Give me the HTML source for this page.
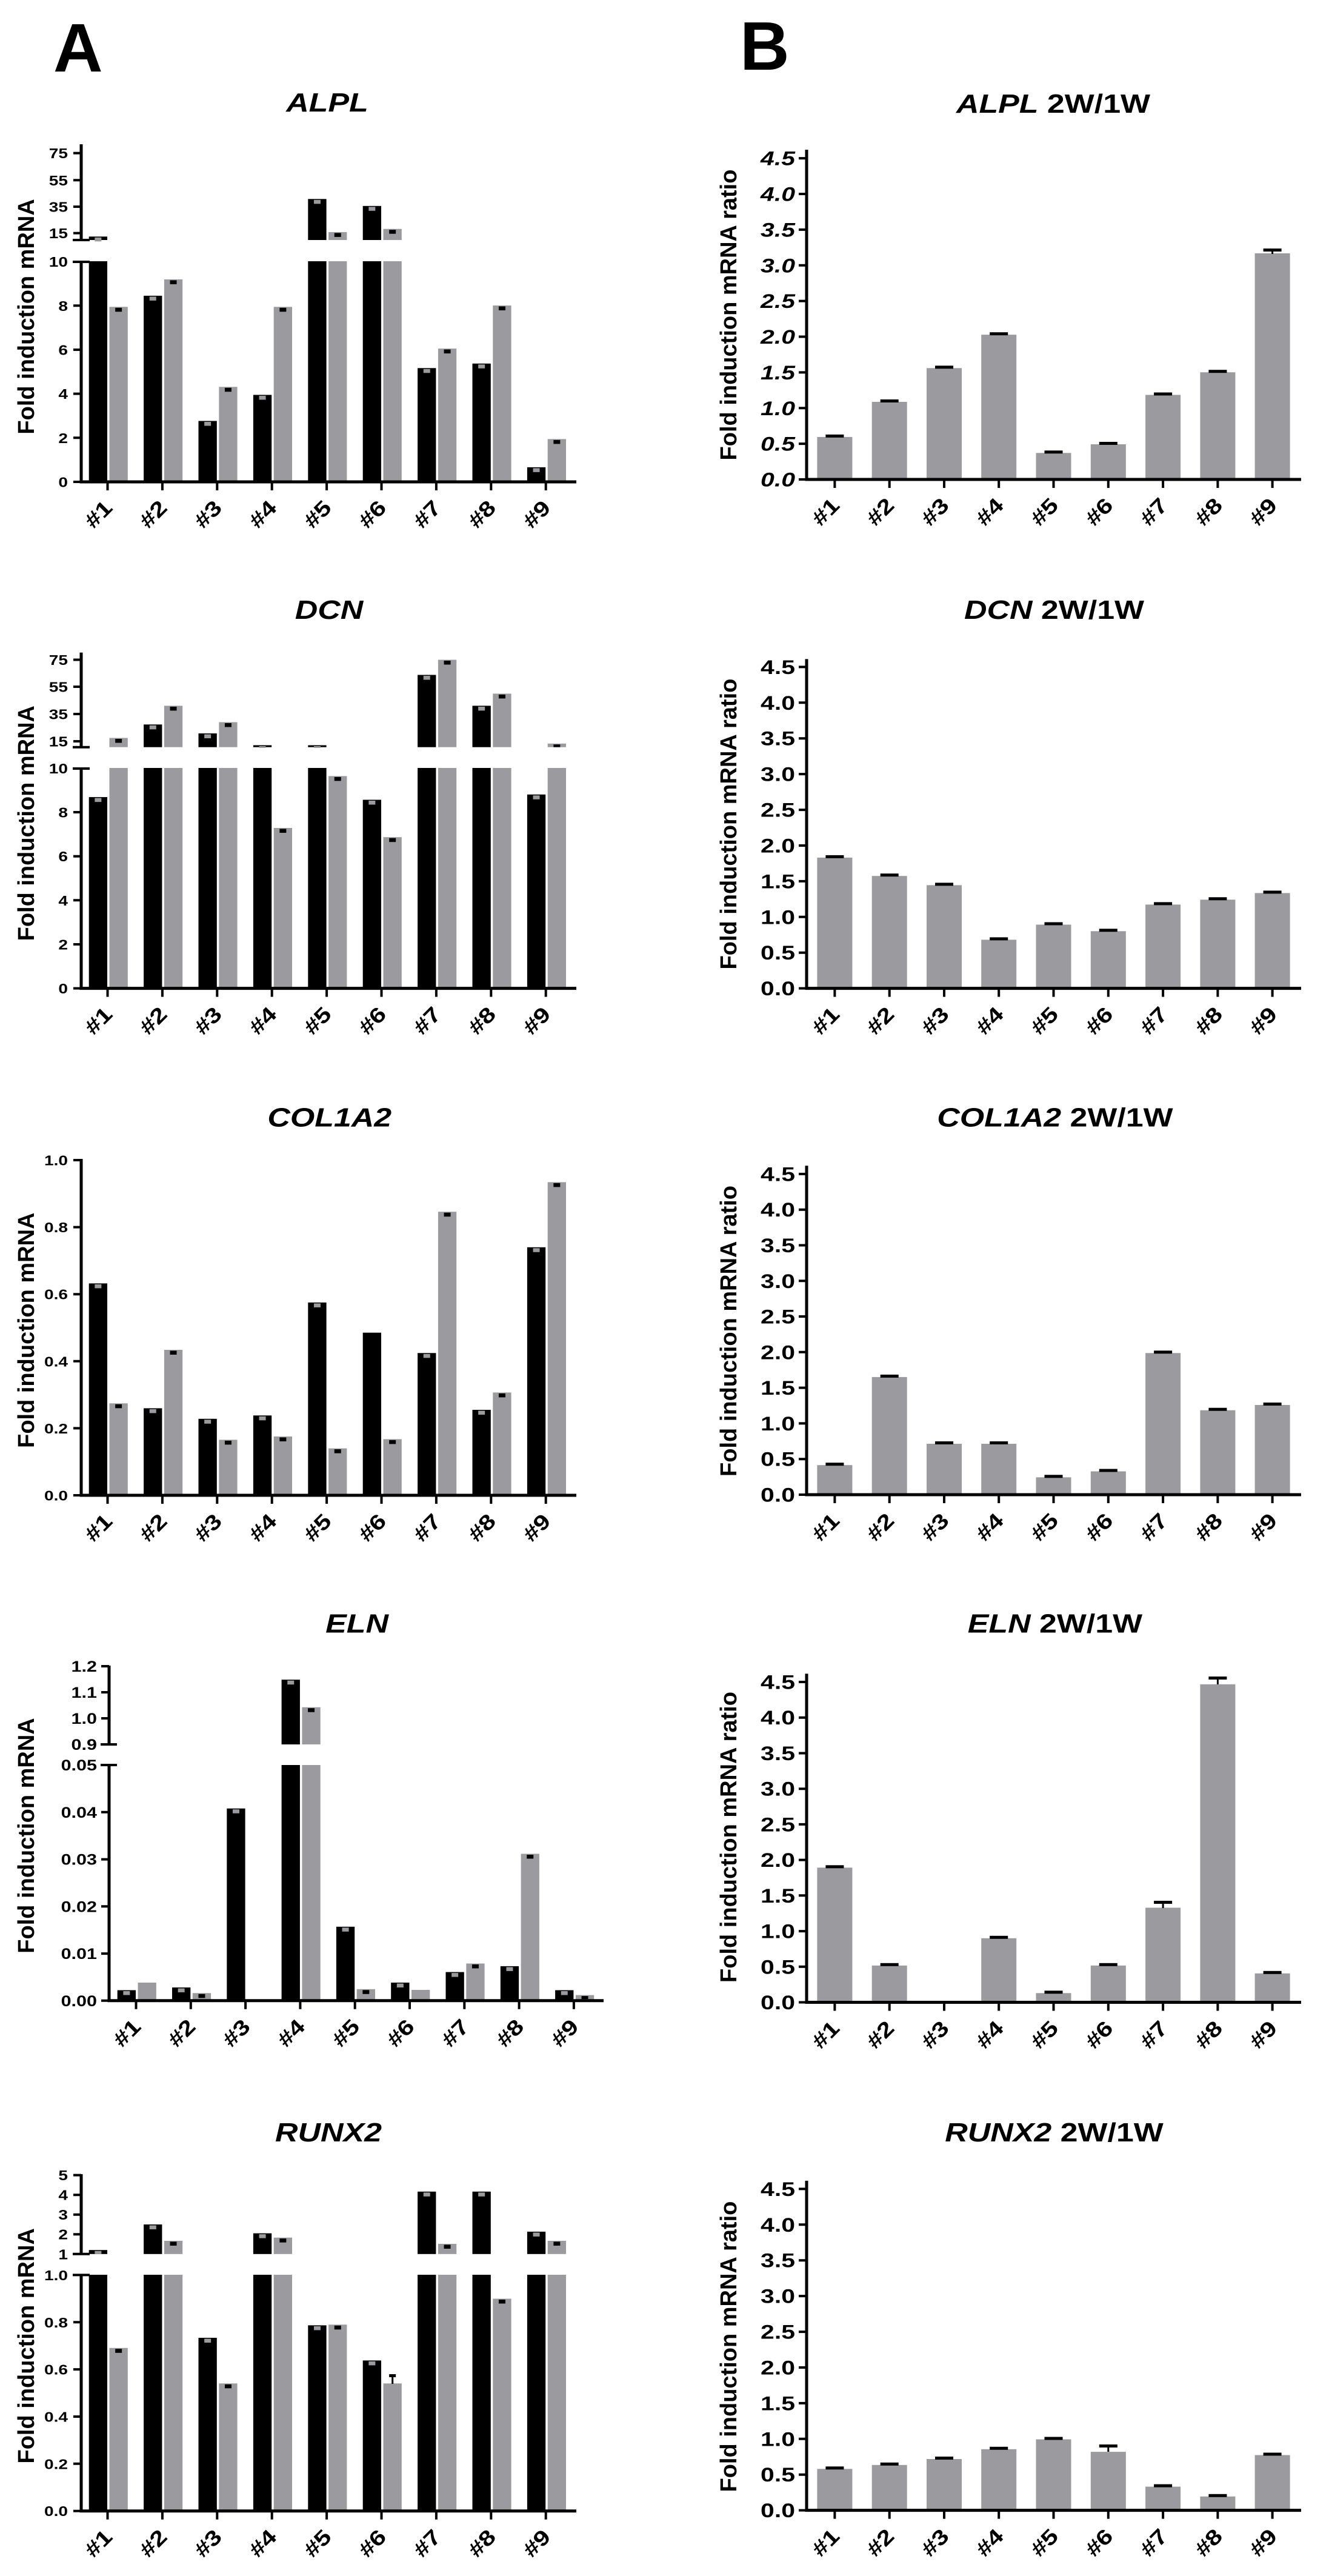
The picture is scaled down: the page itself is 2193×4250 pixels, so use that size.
<!DOCTYPE html>
<html><head><meta charset="utf-8"><style>
html,body{margin:0;padding:0;background:#fff}
svg{display:block}
text{font-family:"Liberation Sans",Arial,Helvetica,sans-serif;font-weight:700;fill:#000}
.xl{font-size:35px}
.ta{font-size:23px}
.te{font-size:25px}
.tb{font-size:32px}
.tt{font-size:44px}
.yt{font-size:38px}
.ax{stroke:#000;stroke-width:5;fill:none}
.tk{stroke:#000;stroke-width:4;fill:none}
.k{fill:#000}
.g{fill:#9b9b9f}
</style></head><body>
<svg width="2193" height="4250" viewBox="0 0 2193 4250" xmlns="http://www.w3.org/2000/svg">
<rect x="0" y="0" width="2193" height="4250" fill="#fff"/>
<text x="88" y="118" font-size="113">A</text>
<text x="1221" y="115" font-size="113">B</text>

<!-- ================= A1 ALPL ================= -->
<g transform="scale(1.18 1)"><text class="tt" x="457.6" y="184" text-anchor="middle" font-style="italic">ALPL</text></g>
<text class="yt" text-anchor="middle" transform="translate(56 522.4) rotate(-90)">Fold induction mRNA</text>
<g>
<rect class="k" x="146.7" y="390.3" width="30.3" height="5.7"/><rect class="k" x="146.7" y="431" width="30.3" height="364"/><rect class="g" x="180.5" y="506.3" width="30.3" height="288.7"/>
<rect class="k" x="237.1" y="487.9" width="30.3" height="307.1"/><rect class="g" x="270.9" y="460.9" width="30.3" height="334.1"/>
<rect class="k" x="327.5" y="694.5" width="30.3" height="100.5"/><rect class="g" x="361.3" y="638.3" width="30.3" height="156.7"/>
<rect class="k" x="417.9" y="651.5" width="30.3" height="143.5"/><rect class="g" x="451.7" y="506.3" width="30.3" height="288.7"/>
<rect class="k" x="508.3" y="328.3" width="30.3" height="67.7"/><rect class="k" x="508.3" y="431" width="30.3" height="364"/><rect class="g" x="542.1" y="382.9" width="30.3" height="13.1"/><rect class="g" x="542.1" y="431" width="30.3" height="364"/>
<rect class="k" x="598.7" y="339.8" width="30.3" height="56.2"/><rect class="k" x="598.7" y="431" width="30.3" height="364"/><rect class="g" x="632.5" y="377.7" width="30.3" height="18.3"/><rect class="g" x="632.5" y="431" width="30.3" height="364"/>
<rect class="k" x="689.1" y="607.3" width="30.3" height="187.7"/><rect class="g" x="722.9" y="575.1" width="30.3" height="219.9"/>
<rect class="k" x="779.5" y="599.8" width="30.3" height="195.2"/><rect class="g" x="813.3" y="504" width="30.3" height="291"/>
<rect class="k" x="869.9" y="770.9" width="30.3" height="24.1"/><rect class="g" x="903.7" y="724.4" width="30.3" height="70.6"/>
</g>
<g class="g">
<rect x="156.35" y="391.8" width="11" height="6.5"/><rect x="246.75" y="489.4" width="11" height="6.5"/><rect x="337.15" y="696" width="11" height="6.5"/><rect x="427.55" y="653" width="11" height="6.5"/><rect x="517.95" y="329.8" width="11" height="6.5"/><rect x="608.35" y="341.3" width="11" height="6.5"/><rect x="698.75" y="608.8" width="11" height="6.5"/><rect x="789.15" y="601.3" width="11" height="6.5"/><rect x="879.55" y="772.4" width="11" height="6.5"/>
</g>
<g class="k">
<rect x="190.15" y="507.8" width="11" height="6.5"/><rect x="280.55" y="462.4" width="11" height="6.5"/><rect x="370.95" y="639.8" width="11" height="6.5"/><rect x="461.35" y="507.8" width="11" height="6.5"/><rect x="551.75" y="384.4" width="11" height="6.5"/><rect x="642.15" y="379.2" width="11" height="6.5"/><rect x="732.55" y="576.6" width="11" height="6.5"/><rect x="822.95" y="505.5" width="11" height="6.5"/><rect x="913.35" y="725.9" width="11" height="6.5"/>
</g>
<path class="ax" d="M134 238V396M134 431V797.5M131.5 795H951"/>
<path class="tk" d="M120 396H148M120 432H148M121 795H134M121 722.3H134M121 649.6H134M121 577H134M121 504.3H134M121 384.6H134M121 341H134M121 297.3H134M121 252.6H134M177.5 795V809M267.9 795V809M358.3 795V809M448.7 795V809M539.1 795V809M629.5 795V809M719.9 795V809M810.3 795V809M900.7 795V809"/>
<g transform="scale(1.22 1)" text-anchor="end">
<text class="ta" x="91.8" y="803.5">0</text><text class="ta" x="91.8" y="730.8">2</text><text class="ta" x="91.8" y="658.1">4</text><text class="ta" x="91.8" y="585.5">6</text><text class="ta" x="91.8" y="512.8">8</text><text class="ta" x="91.8" y="440.1">10</text>
<text class="ta" x="91.8" y="393.1">15</text><text class="ta" x="91.8" y="349.5">35</text><text class="ta" x="91.8" y="305.8">55</text><text class="ta" x="91.8" y="261.1">75</text>
</g>
<g text-anchor="end">
<text class="xl" transform="translate(187.5 840) rotate(-45) scale(1.22 1)">#1</text>
<text class="xl" transform="translate(277.9 840) rotate(-45) scale(1.22 1)">#2</text>
<text class="xl" transform="translate(368.3 840) rotate(-45) scale(1.22 1)">#3</text>
<text class="xl" transform="translate(458.7 840) rotate(-45) scale(1.22 1)">#4</text>
<text class="xl" transform="translate(549.1 840) rotate(-45) scale(1.22 1)">#5</text>
<text class="xl" transform="translate(639.5 840) rotate(-45) scale(1.22 1)">#6</text>
<text class="xl" transform="translate(729.9 840) rotate(-45) scale(1.22 1)">#7</text>
<text class="xl" transform="translate(820.3 840) rotate(-45) scale(1.22 1)">#8</text>
<text class="xl" transform="translate(910.7 840) rotate(-45) scale(1.22 1)">#9</text>
</g>

<!-- ================= A2 DCN ================= -->
<g transform="scale(1.18 1)"><text class="tt" x="460.2" y="1020.8" text-anchor="middle" font-style="italic">DCN</text></g>
<text class="yt" text-anchor="middle" transform="translate(56 1358.2) rotate(-90)">Fold induction mRNA</text>
<g>
<rect class="k" x="146.7" y="1315.1" width="30.3" height="315.5"/><rect class="g" x="180.5" y="1217.5" width="30.3" height="15.2"/><rect class="g" x="180.5" y="1267" width="30.3" height="363.6"/>
<rect class="k" x="237.1" y="1195.3" width="30.3" height="37.4"/><rect class="k" x="237.1" y="1267" width="30.3" height="363.6"/><rect class="g" x="270.9" y="1164.4" width="30.3" height="68.3"/><rect class="g" x="270.9" y="1267" width="30.3" height="363.6"/>
<rect class="k" x="327.5" y="1210" width="30.3" height="22.7"/><rect class="k" x="327.5" y="1267" width="30.3" height="363.6"/><rect class="g" x="361.3" y="1191.5" width="30.3" height="41.2"/><rect class="g" x="361.3" y="1267" width="30.3" height="363.6"/>
<rect class="k" x="417.9" y="1229.5" width="30.3" height="3.2"/><rect class="k" x="417.9" y="1267" width="30.3" height="363.6"/><rect class="g" x="451.7" y="1366" width="30.3" height="264.6"/>
<rect class="k" x="508.3" y="1229.5" width="30.3" height="3.2"/><rect class="k" x="508.3" y="1267" width="30.3" height="363.6"/><rect class="g" x="542.1" y="1280.4" width="30.3" height="350.2"/>
<rect class="k" x="598.7" y="1319.5" width="30.3" height="311.1"/><rect class="g" x="632.5" y="1381.2" width="30.3" height="249.4"/>
<rect class="k" x="689.1" y="1113.5" width="30.3" height="119.2"/><rect class="k" x="689.1" y="1267" width="30.3" height="363.6"/><rect class="g" x="722.9" y="1088.5" width="30.3" height="144.2"/><rect class="g" x="722.9" y="1267" width="30.3" height="363.6"/>
<rect class="k" x="779.5" y="1164.4" width="30.3" height="68.3"/><rect class="k" x="779.5" y="1267" width="30.3" height="363.6"/><rect class="g" x="813.3" y="1144.4" width="30.3" height="88.3"/><rect class="g" x="813.3" y="1267" width="30.3" height="363.6"/>
<rect class="k" x="869.9" y="1310.8" width="30.3" height="319.8"/><rect class="g" x="903.7" y="1226.8" width="30.3" height="5.9"/><rect class="g" x="903.7" y="1267" width="30.3" height="363.6"/>
</g>
<g class="g">
<rect x="156.35" y="1316.6" width="11" height="6.5"/><rect x="246.75" y="1196.8" width="11" height="6.5"/><rect x="337.15" y="1211.5" width="11" height="6.5"/><rect x="427.55" y="1231" width="11" height="3"/><rect x="517.95" y="1231" width="11" height="3"/><rect x="608.35" y="1321" width="11" height="6.5"/><rect x="698.75" y="1115" width="11" height="6.5"/><rect x="789.15" y="1165.9" width="11" height="6.5"/><rect x="879.55" y="1312.3" width="11" height="6.5"/>
</g>
<g class="k">
<rect x="190.15" y="1219" width="11" height="6.5"/><rect x="280.55" y="1165.9" width="11" height="6.5"/><rect x="370.95" y="1193" width="11" height="6.5"/><rect x="461.35" y="1367.5" width="11" height="6.5"/><rect x="551.75" y="1281.9" width="11" height="6.5"/><rect x="642.15" y="1382.7" width="11" height="6.5"/><rect x="732.55" y="1090" width="11" height="6.5"/><rect x="822.95" y="1145.9" width="11" height="6.5"/><rect x="913.35" y="1228.3" width="11" height="4.4"/>
</g>
<path class="ax" d="M134 1076.6V1232.7M134 1267V1633.1M131.5 1630.6H951"/>
<path class="tk" d="M120 1232.7H148M120 1268H148M121 1630.6H134M121 1558H134M121 1485.3H134M121 1412.7H134M121 1340H134M121 1223H134M121 1178H134M121 1133H134M121 1088.5H134M177.5 1630.6V1644.6M267.9 1630.6V1644.6M358.3 1630.6V1644.6M448.7 1630.6V1644.6M539.1 1630.6V1644.6M629.5 1630.6V1644.6M719.9 1630.6V1644.6M810.3 1630.6V1644.6M900.7 1630.6V1644.6"/>
<g transform="scale(1.22 1)" text-anchor="end">
<text class="ta" x="91.8" y="1639.1">0</text><text class="ta" x="91.8" y="1566.5">2</text><text class="ta" x="91.8" y="1493.8">4</text><text class="ta" x="91.8" y="1421.2">6</text><text class="ta" x="91.8" y="1348.5">8</text><text class="ta" x="91.8" y="1275.9">10</text>
<text class="ta" x="91.8" y="1231.5">15</text><text class="ta" x="91.8" y="1186.5">35</text><text class="ta" x="91.8" y="1141.5">55</text><text class="ta" x="91.8" y="1097">75</text>
</g>
<g text-anchor="end">
<text class="xl" transform="translate(187.5 1675.6) rotate(-45) scale(1.22 1)">#1</text>
<text class="xl" transform="translate(277.9 1675.6) rotate(-45) scale(1.22 1)">#2</text>
<text class="xl" transform="translate(368.3 1675.6) rotate(-45) scale(1.22 1)">#3</text>
<text class="xl" transform="translate(458.7 1675.6) rotate(-45) scale(1.22 1)">#4</text>
<text class="xl" transform="translate(549.1 1675.6) rotate(-45) scale(1.22 1)">#5</text>
<text class="xl" transform="translate(639.5 1675.6) rotate(-45) scale(1.22 1)">#6</text>
<text class="xl" transform="translate(729.9 1675.6) rotate(-45) scale(1.22 1)">#7</text>
<text class="xl" transform="translate(820.3 1675.6) rotate(-45) scale(1.22 1)">#8</text>
<text class="xl" transform="translate(910.7 1675.6) rotate(-45) scale(1.22 1)">#9</text>
</g>

<!-- ================= A3 COL1A2 ================= -->
<g transform="scale(1.18 1)"><text class="tt" x="460.8" y="1858.3" text-anchor="middle" font-style="italic">COL1A2</text></g>
<text class="yt" text-anchor="middle" transform="translate(56 2194.7) rotate(-90)">Fold induction mRNA</text>
<g>
<rect class="k" x="146.7" y="2117.4" width="30.3" height="349.6"/><rect class="g" x="180.5" y="2315.3" width="30.3" height="151.7"/>
<rect class="k" x="237.1" y="2323.4" width="30.3" height="143.6"/><rect class="g" x="270.9" y="2227" width="30.3" height="240"/>
<rect class="k" x="327.5" y="2340.8" width="30.3" height="126.2"/><rect class="g" x="361.3" y="2375.4" width="30.3" height="91.6"/>
<rect class="k" x="417.9" y="2335.3" width="30.3" height="131.7"/><rect class="g" x="451.7" y="2370" width="30.3" height="97"/>
<rect class="k" x="508.3" y="2148.9" width="30.3" height="318.1"/><rect class="g" x="542.1" y="2389.6" width="30.3" height="77.4"/>
<rect class="k" x="598.7" y="2198.7" width="30.3" height="268.3"/><rect class="g" x="632.5" y="2374.4" width="30.3" height="92.6"/>
<rect class="k" x="689.1" y="2232.3" width="30.3" height="234.7"/><rect class="g" x="722.9" y="1999.2" width="30.3" height="467.8"/>
<rect class="k" x="779.5" y="2326" width="30.3" height="141"/><rect class="g" x="813.3" y="2297.4" width="30.3" height="169.6"/>
<rect class="k" x="869.9" y="2057.8" width="30.3" height="409.2"/><rect class="g" x="903.7" y="1950.4" width="30.3" height="516.6"/>
</g>
<g class="g">
<rect x="156.35" y="2118.9" width="11" height="6.5"/><rect x="246.75" y="2324.9" width="11" height="6.5"/><rect x="337.15" y="2342.3" width="11" height="6.5"/><rect x="427.55" y="2336.8" width="11" height="6.5"/><rect x="517.95" y="2150.4" width="11" height="6.5"/><rect x="698.75" y="2233.8" width="11" height="6.5"/><rect x="789.15" y="2327.5" width="11" height="6.5"/><rect x="879.55" y="2059.3" width="11" height="6.5"/>
</g>
<g class="k">
<rect x="190.15" y="2316.8" width="11" height="6.5"/><rect x="280.55" y="2228.5" width="11" height="6.5"/><rect x="370.95" y="2376.9" width="11" height="6.5"/><rect x="461.35" y="2371.5" width="11" height="6.5"/><rect x="551.75" y="2391.1" width="11" height="6.5"/><rect x="642.15" y="2375.9" width="11" height="6.5"/><rect x="732.55" y="2000.7" width="11" height="6.5"/><rect x="822.95" y="2298.9" width="11" height="6.5"/><rect x="913.35" y="1951.9" width="11" height="6.5"/>
</g>
<path class="ax" d="M134 1912V2469.5M131.5 2467H951"/>
<path class="tk" d="M121 2467H134M121 2356.4H134M121 2245.8H134M121 2135.2H134M121 2024.6H134M121 1914H134M177.5 2467V2481M267.9 2467V2481M358.3 2467V2481M448.7 2467V2481M539.1 2467V2481M629.5 2467V2481M719.9 2467V2481M810.3 2467V2481M900.7 2467V2481"/>
<g transform="scale(1.22 1)" text-anchor="end">
<text class="ta" x="91.8" y="2475.5">0.0</text><text class="ta" x="91.8" y="2364.9">0.2</text><text class="ta" x="91.8" y="2254.3">0.4</text><text class="ta" x="91.8" y="2143.7">0.6</text><text class="ta" x="91.8" y="2033.1">0.8</text><text class="ta" x="91.8" y="1922.5">1.0</text>
</g>
<g text-anchor="end">
<text class="xl" transform="translate(187.5 2512) rotate(-45) scale(1.22 1)">#1</text>
<text class="xl" transform="translate(277.9 2512) rotate(-45) scale(1.22 1)">#2</text>
<text class="xl" transform="translate(368.3 2512) rotate(-45) scale(1.22 1)">#3</text>
<text class="xl" transform="translate(458.7 2512) rotate(-45) scale(1.22 1)">#4</text>
<text class="xl" transform="translate(549.1 2512) rotate(-45) scale(1.22 1)">#5</text>
<text class="xl" transform="translate(639.5 2512) rotate(-45) scale(1.22 1)">#6</text>
<text class="xl" transform="translate(729.9 2512) rotate(-45) scale(1.22 1)">#7</text>
<text class="xl" transform="translate(820.3 2512) rotate(-45) scale(1.22 1)">#8</text>
<text class="xl" transform="translate(910.7 2512) rotate(-45) scale(1.22 1)">#9</text>
</g>

<!-- ================= A4 ELN ================= -->
<g transform="scale(1.18 1)"><text class="tt" x="499.2" y="2693.7" text-anchor="middle" font-style="italic">ELN</text></g>
<text class="yt" text-anchor="middle" transform="translate(56 3028.5) rotate(-90)">Fold induction mRNA</text>
<g>
<rect class="k" x="193.7" y="3283.5" width="30.3" height="17.3"/><rect class="g" x="227.5" y="3271" width="30.3" height="29.8"/>
<rect class="k" x="284" y="3279" width="30.3" height="21.8"/><rect class="g" x="317.8" y="3288.3" width="30.3" height="12.5"/>
<rect class="k" x="374.3" y="2983.7" width="30.3" height="317.1"/>
<rect class="k" x="464.6" y="2771.2" width="30.3" height="106.8"/><rect class="k" x="464.6" y="2912" width="30.3" height="388.8"/><rect class="g" x="498.4" y="2816.7" width="30.3" height="61.3"/><rect class="g" x="498.4" y="2912" width="30.3" height="388.8"/>
<rect class="k" x="554.9" y="3178.8" width="30.3" height="122"/><rect class="g" x="588.7" y="3281.8" width="30.3" height="19"/>
<rect class="k" x="645.2" y="3271" width="30.3" height="29.8"/><rect class="g" x="679" y="3283" width="30.3" height="17.8"/>
<rect class="k" x="735.5" y="3253.6" width="30.3" height="47.2"/><rect class="g" x="769.3" y="3239.5" width="30.3" height="61.3"/>
<rect class="k" x="825.8" y="3243.9" width="30.3" height="56.9"/><rect class="g" x="859.6" y="3058.5" width="30.3" height="242.3"/>
<rect class="k" x="916.1" y="3283.5" width="30.3" height="17.3"/><rect class="g" x="949.9" y="3291.6" width="30.3" height="9.2"/>
</g>
<g class="g">
<rect x="203.35" y="3285" width="11" height="6.5"/><rect x="293.65" y="3280.5" width="11" height="6.5"/><rect x="383.95" y="2985.2" width="11" height="6.5"/><rect x="474.25" y="2772.7" width="11" height="6.5"/><rect x="564.55" y="3180.3" width="11" height="6.5"/><rect x="654.85" y="3272.5" width="11" height="6.5"/><rect x="745.15" y="3255.1" width="11" height="6.5"/><rect x="835.45" y="3245.4" width="11" height="6.5"/><rect x="925.75" y="3285" width="11" height="6.5"/>
</g>
<g class="k">
<rect x="327.45" y="3289.8" width="11" height="6.5"/><rect x="508.05" y="2818.2" width="11" height="6.5"/><rect x="598.35" y="3283.3" width="11" height="6.5"/><rect x="778.95" y="3241" width="11" height="6.5"/><rect x="869.25" y="3060" width="11" height="6.5"/><rect x="959.55" y="3293.1" width="11" height="5"/>
</g>
<path class="ax" d="M180 2748V2878M180 2912V3303.3M177.5 3300.8H996"/>
<path class="tk" d="M166 2878H193M166 2912H193M167 3300.8H180M167 3223.1H180M167 3145.3H180M167 3067.6H180M167 2989.8H180M167 2835H180M167 2792H180M167 2749H180M224.5 3300.8V3314.8M314.8 3300.8V3314.8M405.1 3300.8V3314.8M495.4 3300.8V3314.8M585.7 3300.8V3314.8M676 3300.8V3314.8M766.3 3300.8V3314.8M856.6 3300.8V3314.8M946.9 3300.8V3314.8"/>
<g transform="scale(1.22 1)" text-anchor="end">
<text class="te" x="131.1" y="3309.8">0.00</text><text class="te" x="131.1" y="3232.1">0.01</text><text class="te" x="131.1" y="3154.3">0.02</text><text class="te" x="131.1" y="3076.6">0.03</text><text class="te" x="131.1" y="2998.8">0.04</text><text class="te" x="131.1" y="2921.1">0.05</text>
<text class="te" x="131.1" y="2887">0.9</text><text class="te" x="131.1" y="2844">1.0</text><text class="te" x="131.1" y="2801">1.1</text><text class="te" x="131.1" y="2758">1.2</text>
</g>
<g text-anchor="end">
<text class="xl" transform="translate(234.5 3345.8) rotate(-45) scale(1.22 1)">#1</text>
<text class="xl" transform="translate(324.8 3345.8) rotate(-45) scale(1.22 1)">#2</text>
<text class="xl" transform="translate(415.1 3345.8) rotate(-45) scale(1.22 1)">#3</text>
<text class="xl" transform="translate(505.4 3345.8) rotate(-45) scale(1.22 1)">#4</text>
<text class="xl" transform="translate(595.7 3345.8) rotate(-45) scale(1.22 1)">#5</text>
<text class="xl" transform="translate(686 3345.8) rotate(-45) scale(1.22 1)">#6</text>
<text class="xl" transform="translate(776.3 3345.8) rotate(-45) scale(1.22 1)">#7</text>
<text class="xl" transform="translate(866.6 3345.8) rotate(-45) scale(1.22 1)">#8</text>
<text class="xl" transform="translate(956.9 3345.8) rotate(-45) scale(1.22 1)">#9</text>
</g>

<!-- ================= A5 RUNX2 ================= -->
<g transform="scale(1.18 1)"><text class="tt" x="459.3" y="3532.8" text-anchor="middle" font-style="italic">RUNX2</text></g>
<text class="yt" text-anchor="middle" transform="translate(56 3870.3) rotate(-90)">Fold induction mRNA</text>
<g>
<rect class="k" x="146.7" y="3712.2" width="30.3" height="6.6"/><rect class="k" x="146.7" y="3753" width="30.3" height="389.7"/><rect class="g" x="180.5" y="3873.8" width="30.3" height="268.9"/>
<rect class="k" x="237.1" y="3670" width="30.3" height="48.8"/><rect class="k" x="237.1" y="3753" width="30.3" height="389.7"/><rect class="g" x="270.9" y="3697" width="30.3" height="21.8"/><rect class="g" x="270.9" y="3753" width="30.3" height="389.7"/>
<rect class="k" x="327.5" y="3857" width="30.3" height="285.7"/><rect class="g" x="361.3" y="3932.3" width="30.3" height="210.4"/>
<rect class="k" x="417.9" y="3684.6" width="30.3" height="34.2"/><rect class="k" x="417.9" y="3753" width="30.3" height="389.7"/><rect class="g" x="451.7" y="3691.7" width="30.3" height="27.1"/><rect class="g" x="451.7" y="3753" width="30.3" height="389.7"/>
<rect class="k" x="508.3" y="3836.4" width="30.3" height="306.3"/><rect class="g" x="542.1" y="3835.3" width="30.3" height="307.4"/>
<rect class="k" x="598.7" y="3894.4" width="30.3" height="248.3"/><rect class="g" x="632.5" y="3932.3" width="30.3" height="210.4"/>
<rect class="k" x="689.1" y="3615.8" width="30.3" height="103"/><rect class="k" x="689.1" y="3753" width="30.3" height="389.7"/><rect class="g" x="722.9" y="3702" width="30.3" height="16.8"/><rect class="g" x="722.9" y="3753" width="30.3" height="389.7"/>
<rect class="k" x="779.5" y="3615.8" width="30.3" height="103"/><rect class="k" x="779.5" y="3753" width="30.3" height="389.7"/><rect class="g" x="813.3" y="3792.5" width="30.3" height="350.2"/>
<rect class="k" x="869.9" y="3681.9" width="30.3" height="36.9"/><rect class="k" x="869.9" y="3753" width="30.3" height="389.7"/><rect class="g" x="903.7" y="3697" width="30.3" height="21.8"/><rect class="g" x="903.7" y="3753" width="30.3" height="389.7"/>
</g>
<g class="g">
<rect x="156.35" y="3713.7" width="11" height="5"/><rect x="246.75" y="3671.5" width="11" height="6.5"/><rect x="337.15" y="3858.5" width="11" height="6.5"/><rect x="427.55" y="3686.1" width="11" height="6.5"/><rect x="517.95" y="3837.9" width="11" height="6.5"/><rect x="608.35" y="3895.9" width="11" height="6.5"/><rect x="698.75" y="3617.3" width="11" height="6.5"/><rect x="789.15" y="3617.3" width="11" height="6.5"/><rect x="879.55" y="3683.4" width="11" height="6.5"/>
</g>
<g class="k">
<rect x="190.15" y="3875.3" width="11" height="6.5"/><rect x="280.55" y="3698.5" width="11" height="6.5"/><rect x="370.95" y="3933.8" width="11" height="6.5"/><rect x="461.35" y="3693.2" width="11" height="6.5"/><rect x="551.75" y="3836.8" width="11" height="6.5"/><rect x="646.2" y="3919" width="3" height="14"/><rect x="642.15" y="3917" width="11" height="5"/><rect x="732.55" y="3703.5" width="11" height="6.5"/><rect x="822.95" y="3794" width="11" height="6.5"/><rect x="913.35" y="3698.5" width="11" height="6.5"/>
</g>
<path class="ax" d="M134 3587V3718.8M134 3753V4145.2M131.5 4142.7H951"/>
<path class="tk" d="M120 3718.8H148M120 3753.4H148M121 3588.6H134M121 3621.2H134M121 3653.7H134M121 3686.2H134M121 3831.3H134M121 3909.1H134M121 3987H134M121 4064.8H134M121 4142.7H134M177.5 4142.7V4156.7M267.9 4142.7V4156.7M358.3 4142.7V4156.7M448.7 4142.7V4156.7M539.1 4142.7V4156.7M629.5 4142.7V4156.7M719.9 4142.7V4156.7M810.3 4142.7V4156.7M900.7 4142.7V4156.7"/>
<g transform="scale(1.22 1)" text-anchor="end">
<text class="ta" x="91.8" y="3597.1">5</text><text class="ta" x="91.8" y="3629.7">4</text><text class="ta" x="91.8" y="3662.2">3</text><text class="ta" x="91.8" y="3694.7">2</text><text class="ta" x="91.8" y="3727.3">1</text>
<text class="ta" x="91.8" y="3761.9">1.0</text><text class="ta" x="91.8" y="3839.8">0.8</text><text class="ta" x="91.8" y="3917.6">0.6</text><text class="ta" x="91.8" y="3995.5">0.4</text><text class="ta" x="91.8" y="4073.3">0.2</text><text class="ta" x="91.8" y="4151.2">0.0</text>
</g>
<g text-anchor="end">
<text class="xl" transform="translate(187.5 4187.7) rotate(-45) scale(1.22 1)">#1</text>
<text class="xl" transform="translate(277.9 4187.7) rotate(-45) scale(1.22 1)">#2</text>
<text class="xl" transform="translate(368.3 4187.7) rotate(-45) scale(1.22 1)">#3</text>
<text class="xl" transform="translate(458.7 4187.7) rotate(-45) scale(1.22 1)">#4</text>
<text class="xl" transform="translate(549.1 4187.7) rotate(-45) scale(1.22 1)">#5</text>
<text class="xl" transform="translate(639.5 4187.7) rotate(-45) scale(1.22 1)">#6</text>
<text class="xl" transform="translate(729.9 4187.7) rotate(-45) scale(1.22 1)">#7</text>
<text class="xl" transform="translate(820.3 4187.7) rotate(-45) scale(1.22 1)">#8</text>
<text class="xl" transform="translate(910.7 4187.7) rotate(-45) scale(1.22 1)">#9</text>
</g>

<!-- ================= B1 ALPL ================= -->
<g transform="scale(1.18 1)"><text class="tt" x="1472.9" y="186" text-anchor="middle"><tspan font-style="italic">ALPL</tspan> 2W/1W</text></g>
<text class="yt" text-anchor="middle" transform="translate(1215 519.5) rotate(-90)">Fold induction mRNA ratio</text>
<g class="g">
<rect x="1348.4" y="720.9" width="58" height="70.1"/><rect x="1438.7" y="663" width="58" height="128"/><rect x="1529" y="607.3" width="58" height="183.7"/><rect x="1619.2" y="552.2" width="58" height="238.8"/><rect x="1709.5" y="747.3" width="58" height="43.7"/><rect x="1799.8" y="733" width="58" height="58"/><rect x="1890.1" y="651.5" width="58" height="139.5"/><rect x="1980.4" y="614.2" width="58" height="176.8"/><rect x="2070.6" y="417.9" width="58" height="373.1"/>
</g>
<g class="k">
<rect x="1362.4" y="716.9" width="30" height="5"/><rect x="1452.7" y="659" width="30" height="5"/><rect x="1543" y="603.3" width="30" height="5"/><rect x="1633.2" y="548.2" width="30" height="5"/><rect x="1723.5" y="743.3" width="30" height="5"/><rect x="1813.8" y="729" width="30" height="5"/><rect x="1904.1" y="647.5" width="30" height="5"/><rect x="1994.4" y="610.2" width="30" height="5"/><rect x="2084.6" y="410" width="30" height="5"/><rect x="2098.1" y="412" width="3" height="7"/>
</g>
<path class="ax" d="M1331 247V793.5M1328.5 791H2147"/>
<path class="tk" d="M1318 791H1331M1318 732.1H1331M1318 673.3H1331M1318 614.4H1331M1318 555.5H1331M1318 496.6H1331M1318 437.8H1331M1318 378.9H1331M1318 320H1331M1318 261.1H1331M1377.4 791V805M1467.7 791V805M1558 791V805M1648.2 791V805M1738.5 791V805M1828.8 791V805M1919.1 791V805M2009.4 791V805M2099.6 791V805"/>
<g transform="scale(1.28 1)" text-anchor="end" font-style="italic">
<text class="tb" x="1025" y="802.5">0.0</text><text class="tb" x="1025" y="743.6">0.5</text><text class="tb" x="1025" y="684.8">1.0</text><text class="tb" x="1025" y="625.9">1.5</text><text class="tb" x="1025" y="567">2.0</text><text class="tb" x="1025" y="508.1">2.5</text><text class="tb" x="1025" y="449.3">3.0</text><text class="tb" x="1025" y="390.4">3.5</text><text class="tb" x="1025" y="331.5">4.0</text><text class="tb" x="1025" y="272.6">4.5</text>
</g>
<g text-anchor="end">
<text class="xl" transform="translate(1387.4 836) rotate(-45) scale(1.22 1)">#1</text>
<text class="xl" transform="translate(1477.7 836) rotate(-45) scale(1.22 1)">#2</text>
<text class="xl" transform="translate(1568 836) rotate(-45) scale(1.22 1)">#3</text>
<text class="xl" transform="translate(1658.2 836) rotate(-45) scale(1.22 1)">#4</text>
<text class="xl" transform="translate(1748.5 836) rotate(-45) scale(1.22 1)">#5</text>
<text class="xl" transform="translate(1838.8 836) rotate(-45) scale(1.22 1)">#6</text>
<text class="xl" transform="translate(1929.1 836) rotate(-45) scale(1.22 1)">#7</text>
<text class="xl" transform="translate(2019.4 836) rotate(-45) scale(1.22 1)">#8</text>
<text class="xl" transform="translate(2109.6 836) rotate(-45) scale(1.22 1)">#9</text>
</g>

<!-- ================= B2 DCN ================= -->
<g transform="scale(1.18 1)"><text class="tt" x="1474.2" y="1020.8" text-anchor="middle"><tspan font-style="italic">DCN</tspan> 2W/1W</text></g>
<text class="yt" text-anchor="middle" transform="translate(1215 1359.6) rotate(-90)">Fold induction mRNA ratio</text>
<g class="g">
<rect x="1348.4" y="1414.9" width="58" height="215.7"/><rect x="1438.7" y="1445.2" width="58" height="185.4"/><rect x="1529" y="1460.4" width="58" height="170.2"/><rect x="1619.2" y="1550.4" width="58" height="80.2"/><rect x="1709.5" y="1525.5" width="58" height="105.1"/><rect x="1799.8" y="1536.3" width="58" height="94.3"/><rect x="1890.1" y="1492.4" width="58" height="138.2"/><rect x="1980.4" y="1484.3" width="58" height="146.3"/><rect x="2070.6" y="1473.4" width="58" height="157.2"/>
</g>
<g class="k">
<rect x="1362.4" y="1410.9" width="30" height="5"/><rect x="1452.7" y="1441.2" width="30" height="5"/><rect x="1543" y="1456.4" width="30" height="5"/><rect x="1633.2" y="1546.4" width="30" height="5"/><rect x="1723.5" y="1521.5" width="30" height="5"/><rect x="1813.8" y="1532.3" width="30" height="5"/><rect x="1904.1" y="1488.4" width="30" height="5"/><rect x="1994.4" y="1480.3" width="30" height="5"/><rect x="2084.6" y="1469.4" width="30" height="5"/>
</g>
<path class="ax" d="M1331 1087.4V1633.1M1328.5 1630.6H2147"/>
<path class="tk" d="M1318 1630.6H1331M1318 1571.7H1331M1318 1512.8H1331M1318 1453.9H1331M1318 1395H1331M1318 1336.1H1331M1318 1277.1H1331M1318 1218.2H1331M1318 1159.3H1331M1318 1100.4H1331M1377.4 1630.6V1644.6M1467.7 1630.6V1644.6M1558 1630.6V1644.6M1648.2 1630.6V1644.6M1738.5 1630.6V1644.6M1828.8 1630.6V1644.6M1919.1 1630.6V1644.6M2009.4 1630.6V1644.6M2099.6 1630.6V1644.6"/>
<g transform="scale(1.28 1)" text-anchor="end">
<text class="tb" x="1025" y="1642.1">0.0</text><text class="tb" x="1025" y="1583.2">0.5</text><text class="tb" x="1025" y="1524.3">1.0</text><text class="tb" x="1025" y="1465.4">1.5</text><text class="tb" x="1025" y="1406.5">2.0</text><text class="tb" x="1025" y="1347.6">2.5</text><text class="tb" x="1025" y="1288.6">3.0</text><text class="tb" x="1025" y="1229.7">3.5</text><text class="tb" x="1025" y="1170.8">4.0</text><text class="tb" x="1025" y="1111.9">4.5</text>
</g>
<g text-anchor="end">
<text class="xl" transform="translate(1387.4 1675.6) rotate(-45) scale(1.22 1)">#1</text>
<text class="xl" transform="translate(1477.7 1675.6) rotate(-45) scale(1.22 1)">#2</text>
<text class="xl" transform="translate(1568 1675.6) rotate(-45) scale(1.22 1)">#3</text>
<text class="xl" transform="translate(1658.2 1675.6) rotate(-45) scale(1.22 1)">#4</text>
<text class="xl" transform="translate(1748.5 1675.6) rotate(-45) scale(1.22 1)">#5</text>
<text class="xl" transform="translate(1838.8 1675.6) rotate(-45) scale(1.22 1)">#6</text>
<text class="xl" transform="translate(1929.1 1675.6) rotate(-45) scale(1.22 1)">#7</text>
<text class="xl" transform="translate(2019.4 1675.6) rotate(-45) scale(1.22 1)">#8</text>
<text class="xl" transform="translate(2109.6 1675.6) rotate(-45) scale(1.22 1)">#9</text>
</g>

<!-- ================= B3 COL1A2 ================= -->
<g transform="scale(1.18 1)"><text class="tt" x="1475.4" y="1858.3" text-anchor="middle"><tspan font-style="italic">COL1A2</tspan> 2W/1W</text></g>
<text class="yt" text-anchor="middle" transform="translate(1215 2196) rotate(-90)">Fold induction mRNA ratio</text>
<g class="g">
<rect x="1348.4" y="2417.2" width="58" height="48.8"/><rect x="1438.7" y="2271.9" width="58" height="194.1"/><rect x="1529" y="2382" width="58" height="84"/><rect x="1619.2" y="2382" width="58" height="84"/><rect x="1709.5" y="2437.3" width="58" height="28.7"/><rect x="1799.8" y="2427.5" width="58" height="38.5"/><rect x="1890.1" y="2232.3" width="58" height="233.7"/><rect x="1980.4" y="2326.7" width="58" height="139.3"/><rect x="2070.6" y="2318" width="58" height="148"/>
</g>
<g class="k">
<rect x="1362.4" y="2413.2" width="30" height="5"/><rect x="1452.7" y="2267.9" width="30" height="5"/><rect x="1543" y="2378" width="30" height="5"/><rect x="1633.2" y="2378" width="30" height="5"/><rect x="1723.5" y="2433.3" width="30" height="5"/><rect x="1813.8" y="2423.5" width="30" height="5"/><rect x="1904.1" y="2228.3" width="30" height="5"/><rect x="1994.4" y="2322.7" width="30" height="5"/><rect x="2084.6" y="2314" width="30" height="5"/>
</g>
<path class="ax" d="M1331 1923.3V2468.5M1328.5 2466H2147"/>
<path class="tk" d="M1318 2466H1331M1318 2407.2H1331M1318 2348.4H1331M1318 2289.6H1331M1318 2230.8H1331M1318 2172H1331M1318 2113.3H1331M1318 2054.5H1331M1318 1995.7H1331M1318 1936.9H1331M1377.4 2466V2480M1467.7 2466V2480M1558 2466V2480M1648.2 2466V2480M1738.5 2466V2480M1828.8 2466V2480M1919.1 2466V2480M2009.4 2466V2480M2099.6 2466V2480"/>
<g transform="scale(1.28 1)" text-anchor="end">
<text class="tb" x="1025" y="2477.5">0.0</text><text class="tb" x="1025" y="2418.7">0.5</text><text class="tb" x="1025" y="2359.9">1.0</text><text class="tb" x="1025" y="2301.1">1.5</text><text class="tb" x="1025" y="2242.3">2.0</text><text class="tb" x="1025" y="2183.5">2.5</text><text class="tb" x="1025" y="2124.8">3.0</text><text class="tb" x="1025" y="2066">3.5</text><text class="tb" x="1025" y="2007.2">4.0</text><text class="tb" x="1025" y="1948.4">4.5</text>
</g>
<g text-anchor="end">
<text class="xl" transform="translate(1387.4 2511) rotate(-45) scale(1.22 1)">#1</text>
<text class="xl" transform="translate(1477.7 2511) rotate(-45) scale(1.22 1)">#2</text>
<text class="xl" transform="translate(1568 2511) rotate(-45) scale(1.22 1)">#3</text>
<text class="xl" transform="translate(1658.2 2511) rotate(-45) scale(1.22 1)">#4</text>
<text class="xl" transform="translate(1748.5 2511) rotate(-45) scale(1.22 1)">#5</text>
<text class="xl" transform="translate(1838.8 2511) rotate(-45) scale(1.22 1)">#6</text>
<text class="xl" transform="translate(1929.1 2511) rotate(-45) scale(1.22 1)">#7</text>
<text class="xl" transform="translate(2019.4 2511) rotate(-45) scale(1.22 1)">#8</text>
<text class="xl" transform="translate(2109.6 2511) rotate(-45) scale(1.22 1)">#9</text>
</g>

<!-- ================= B4 ELN ================= -->
<g transform="scale(1.18 1)"><text class="tt" x="1475.4" y="2693.7" text-anchor="middle"><tspan font-style="italic">ELN</tspan> 2W/1W</text></g>
<text class="yt" text-anchor="middle" transform="translate(1215 3031) rotate(-90)">Fold induction mRNA ratio</text>
<g class="g">
<rect x="1348.4" y="3081.3" width="58" height="222.2"/><rect x="1438.7" y="3242.8" width="58" height="60.7"/><rect x="1619.2" y="3197.8" width="58" height="105.7"/><rect x="1709.5" y="3288.3" width="58" height="15.2"/><rect x="1799.8" y="3242.8" width="58" height="60.7"/><rect x="1890.1" y="3147.4" width="58" height="156.1"/><rect x="1980.4" y="2778.8" width="58" height="524.7"/><rect x="2070.6" y="3255.8" width="58" height="47.7"/>
</g>
<g class="k">
<rect x="1362.4" y="3077.3" width="30" height="5"/><rect x="1452.7" y="3238.8" width="30" height="5"/><rect x="1633.2" y="3193.8" width="30" height="5"/><rect x="1723.5" y="3284.3" width="30" height="5"/><rect x="1813.8" y="3238.8" width="30" height="5"/><rect x="1904.1" y="3136" width="30" height="5"/><rect x="1917.6" y="3138" width="3" height="10"/><rect x="1994.4" y="2766" width="30" height="5"/><rect x="2007.9" y="2768" width="3" height="11"/><rect x="2084.6" y="3251.8" width="30" height="5"/>
</g>
<path class="ax" d="M1331 2761.4V3306M1328.5 3303.5H2147"/>
<path class="tk" d="M1318 3303.5H1331M1318 3244.8H1331M1318 3186.1H1331M1318 3127.3H1331M1318 3068.6H1331M1318 3009.9H1331M1318 2951.2H1331M1318 2892.5H1331M1318 2833.7H1331M1318 2775H1331M1377.4 3303.5V3317.5M1467.7 3303.5V3317.5M1558 3303.5V3317.5M1648.2 3303.5V3317.5M1738.5 3303.5V3317.5M1828.8 3303.5V3317.5M1919.1 3303.5V3317.5M2009.4 3303.5V3317.5M2099.6 3303.5V3317.5"/>
<g transform="scale(1.28 1)" text-anchor="end">
<text class="tb" x="1025" y="3315">0.0</text><text class="tb" x="1025" y="3256.3">0.5</text><text class="tb" x="1025" y="3197.6">1.0</text><text class="tb" x="1025" y="3138.8">1.5</text><text class="tb" x="1025" y="3080.1">2.0</text><text class="tb" x="1025" y="3021.4">2.5</text><text class="tb" x="1025" y="2962.7">3.0</text><text class="tb" x="1025" y="2904">3.5</text><text class="tb" x="1025" y="2845.2">4.0</text><text class="tb" x="1025" y="2786.5">4.5</text>
</g>
<g text-anchor="end">
<text class="xl" transform="translate(1387.4 3348.5) rotate(-45) scale(1.22 1)">#1</text>
<text class="xl" transform="translate(1477.7 3348.5) rotate(-45) scale(1.22 1)">#2</text>
<text class="xl" transform="translate(1568 3348.5) rotate(-45) scale(1.22 1)">#3</text>
<text class="xl" transform="translate(1658.2 3348.5) rotate(-45) scale(1.22 1)">#4</text>
<text class="xl" transform="translate(1748.5 3348.5) rotate(-45) scale(1.22 1)">#5</text>
<text class="xl" transform="translate(1838.8 3348.5) rotate(-45) scale(1.22 1)">#6</text>
<text class="xl" transform="translate(1929.1 3348.5) rotate(-45) scale(1.22 1)">#7</text>
<text class="xl" transform="translate(2019.4 3348.5) rotate(-45) scale(1.22 1)">#8</text>
<text class="xl" transform="translate(2109.6 3348.5) rotate(-45) scale(1.22 1)">#9</text>
</g>

<!-- ================= B5 RUNX2 ================= -->
<g transform="scale(1.18 1)"><text class="tt" x="1474.2" y="3532.8" text-anchor="middle"><tspan font-style="italic">RUNX2</tspan> 2W/1W</text></g>
<text class="yt" text-anchor="middle" transform="translate(1215 3871.6) rotate(-90)">Fold induction mRNA ratio</text>
<g class="g">
<rect x="1348.4" y="4073.3" width="58" height="68.3"/><rect x="1438.7" y="4066.8" width="58" height="74.8"/><rect x="1529" y="4057" width="58" height="84.6"/><rect x="1619.2" y="4040.8" width="58" height="100.8"/><rect x="1709.5" y="4024.5" width="58" height="117.1"/><rect x="1799.8" y="4045.1" width="58" height="96.5"/><rect x="1890.1" y="4102.6" width="58" height="39"/><rect x="1980.4" y="4118.8" width="58" height="22.8"/><rect x="2070.6" y="4050.5" width="58" height="91.1"/>
</g>
<g class="k">
<rect x="1362.4" y="4069.3" width="30" height="5"/><rect x="1452.7" y="4062.8" width="30" height="5"/><rect x="1543" y="4053" width="30" height="5"/><rect x="1633.2" y="4036.8" width="30" height="5"/><rect x="1723.5" y="4020.5" width="30" height="5"/><rect x="1813.8" y="4033" width="30" height="5"/><rect x="1827.3" y="4035" width="3" height="10"/><rect x="1904.1" y="4098.6" width="30" height="5"/><rect x="1994.4" y="4114.8" width="30" height="5"/><rect x="2084.6" y="4046.5" width="30" height="5"/>
</g>
<path class="ax" d="M1331 3597.9V4144.1M1328.5 4141.6H2147"/>
<path class="tk" d="M1318 4141.6H1331M1318 4082.7H1331M1318 4023.8H1331M1318 3964.9H1331M1318 3906H1331M1318 3847.1H1331M1318 3788.1H1331M1318 3729.2H1331M1318 3670.3H1331M1318 3611.4H1331M1377.4 4141.6V4155.6M1467.7 4141.6V4155.6M1558 4141.6V4155.6M1648.2 4141.6V4155.6M1738.5 4141.6V4155.6M1828.8 4141.6V4155.6M1919.1 4141.6V4155.6M2009.4 4141.6V4155.6M2099.6 4141.6V4155.6"/>
<g transform="scale(1.28 1)" text-anchor="end">
<text class="tb" x="1025" y="4153.1">0.0</text><text class="tb" x="1025" y="4094.2">0.5</text><text class="tb" x="1025" y="4035.3">1.0</text><text class="tb" x="1025" y="3976.4">1.5</text><text class="tb" x="1025" y="3917.5">2.0</text><text class="tb" x="1025" y="3858.6">2.5</text><text class="tb" x="1025" y="3799.6">3.0</text><text class="tb" x="1025" y="3740.7">3.5</text><text class="tb" x="1025" y="3681.8">4.0</text><text class="tb" x="1025" y="3622.9">4.5</text>
</g>
<g text-anchor="end">
<text class="xl" transform="translate(1387.4 4186.6) rotate(-45) scale(1.22 1)">#1</text>
<text class="xl" transform="translate(1477.7 4186.6) rotate(-45) scale(1.22 1)">#2</text>
<text class="xl" transform="translate(1568 4186.6) rotate(-45) scale(1.22 1)">#3</text>
<text class="xl" transform="translate(1658.2 4186.6) rotate(-45) scale(1.22 1)">#4</text>
<text class="xl" transform="translate(1748.5 4186.6) rotate(-45) scale(1.22 1)">#5</text>
<text class="xl" transform="translate(1838.8 4186.6) rotate(-45) scale(1.22 1)">#6</text>
<text class="xl" transform="translate(1929.1 4186.6) rotate(-45) scale(1.22 1)">#7</text>
<text class="xl" transform="translate(2019.4 4186.6) rotate(-45) scale(1.22 1)">#8</text>
<text class="xl" transform="translate(2109.6 4186.6) rotate(-45) scale(1.22 1)">#9</text>
</g>
</svg>
</body></html>
